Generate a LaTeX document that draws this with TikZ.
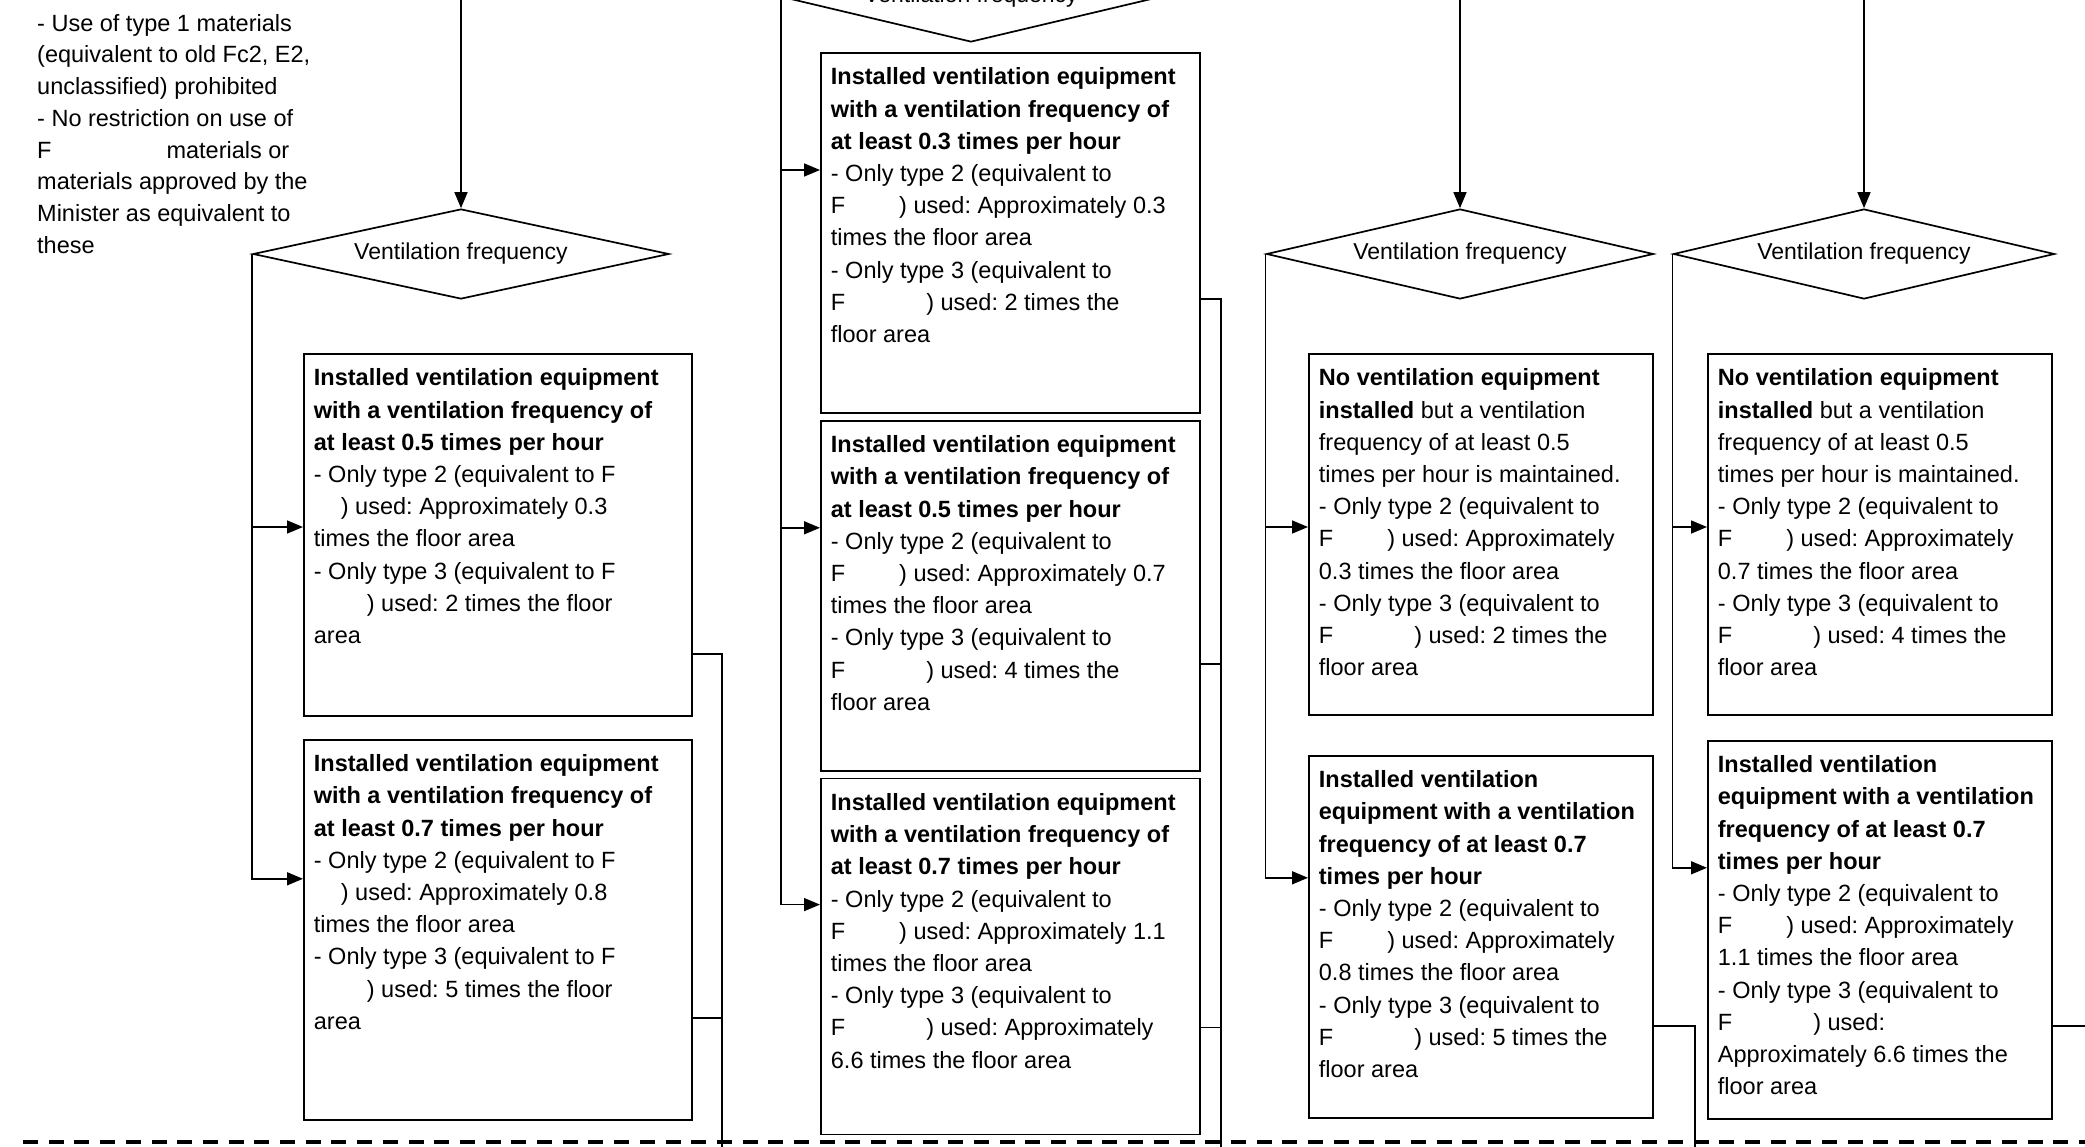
\documentclass[tikz,border=0pt]{standalone}
\usepackage{fontspec}
\setmainfont{Liberation Sans}
\usetikzlibrary{arrows.meta,positioning,shapes.geometric,calc}

\newcommand{\boxfont}{\fontsize{23.5}{32.2}\selectfont}
\newcommand{\cellbox}[3]{\parbox[t][#2][t]{#1}{\raggedright\frenchspacing #3}}

\begin{document}
\begin{tikzpicture}[x=1pt, y=-1pt,
    line/.style={line width=1.6pt},
    arr/.style={line width=1.6pt, -{Triangle[length=16pt,width=13pt]}},
    cell/.style={draw, line width=1.8pt, anchor=north west, inner xsep=10pt, inner ysep=15pt, font=\boxfont},
    decision/.style={draw, diamond, line width=1.7pt, inner sep=0pt, aspect=4.6, minimum height=90pt, font=\fontsize{23}{28}\selectfont},
    sepline/.style={line width=3.3pt, dash pattern=on 15pt off 10.7pt}]
  \useasboundingbox (0,0) rectangle (2085,1147);
  \clip (0,0) rectangle (2085,1147);

  \node[anchor=north west, inner sep=0pt, align=left, font=\fontsize{23.5}{31.7}\selectfont] (note) at (37,14)
    {- Use of type 1 materials\\(equivalent to old Fc2, E2,\\unclassified) prohibited\\- No restriction on use of\\F\hspace{115pt}materials or\\materials approved by the\\Minister as equivalent to\\these};

  % decisions
  \node[decision, minimum width=416pt] (d1) at (461,254) {Ventilation frequency};
  \node[decision, minimum width=378pt] (d2) at (971,-3) {Ventilation frequency};
  \node[decision, minimum width=387pt] (d3) at (1460,254) {Ventilation frequency};
  \node[decision, minimum width=381pt] (d4) at (1864,254) {Ventilation frequency};

  % column 1
  \node[cell] (b1) at (303,353) {\cellbox{368pt}{332pt}{%
    \textbf{Installed ventilation equipment}\\
    \textbf{with a ventilation frequency of}\\
    \textbf{at least 0.5 times per hour}\\
    - Only type 2 (equivalent to F\\
    \hspace*{27pt}) used: Approximately 0.3\\
    times the floor area\\
    - Only type 3 (equivalent to F\\
    \hspace*{53pt}) used: 2 times the floor\\
    area}};
  \node[cell, below=22pt of b1] (b2) {\cellbox{368pt}{350pt}{%
    \textbf{Installed ventilation equipment}\\
    \textbf{with a ventilation frequency of}\\
    \textbf{at least 0.7 times per hour}\\
    - Only type 2 (equivalent to F\\
    \hspace*{27pt}) used: Approximately 0.8\\
    times the floor area\\
    - Only type 3 (equivalent to F\\
    \hspace*{53pt}) used: 5 times the floor\\
    area}};

  % column 2
  \node[cell] (b3) at (820,52) {\cellbox{359pt}{330pt}{%
    \textbf{Installed ventilation equipment}\\
    \textbf{with a ventilation frequency of}\\
    \textbf{at least 0.3 times per hour}\\
    - Only type 2 (equivalent to\\
    F\hspace{54pt}) used: Approximately 0.3\\
    times the floor area\\
    - Only type 3 (equivalent to\\
    F\hspace{81pt}) used: 2 times the\\
    floor area}};
  \node[cell, below=6pt of b3] (b4) {\cellbox{359pt}{320pt}{%
    \textbf{Installed ventilation equipment}\\
    \textbf{with a ventilation frequency of}\\
    \textbf{at least 0.5 times per hour}\\
    - Only type 2 (equivalent to\\
    F\hspace{54pt}) used: Approximately 0.7\\
    times the floor area\\
    - Only type 3 (equivalent to\\
    F\hspace{81pt}) used: 4 times the\\
    floor area}};
  \node[cell, below=6pt of b4] (b5) {\cellbox{359pt}{326pt}{%
    \textbf{Installed ventilation equipment}\\
    \textbf{with a ventilation frequency of}\\
    \textbf{at least 0.7 times per hour}\\
    - Only type 2 (equivalent to\\
    F\hspace{54pt}) used: Approximately 1.1\\
    times the floor area\\
    - Only type 3 (equivalent to\\
    F\hspace{81pt}) used: Approximately\\
    6.6 times the floor area}};

  % column 3
  \node[cell] (b6) at (1308,353) {\cellbox{324pt}{331pt}{%
    \textbf{No ventilation equipment}\\
    \textbf{installed} but a ventilation\\
    frequency of at least 0.5\\
    times per hour is maintained.\\
    - Only type 2 (equivalent to\\
    F\hspace{54pt}) used: Approximately\\
    0.3 times the floor area\\
    - Only type 3 (equivalent to\\
    F\hspace{81pt}) used: 2 times the\\
    floor area}};
  \node[cell, below=39pt of b6] (b7) {\cellbox{324pt}{332pt}{%
    \textbf{Installed ventilation}\\
    \textbf{equipment with a ventilation}\\
    \textbf{frequency of at least 0.7}\\
    \textbf{times per hour}\\
    - Only type 2 (equivalent to\\
    F\hspace{54pt}) used: Approximately\\
    0.8 times the floor area\\
    - Only type 3 (equivalent to\\
    F\hspace{81pt}) used: 5 times the\\
    floor area}};

  % column 4
  \node[cell] (b8) at (1707,353) {\cellbox{324pt}{331pt}{%
    \textbf{No ventilation equipment}\\
    \textbf{installed} but a ventilation\\
    frequency of at least 0.5\\
    times per hour is maintained.\\
    - Only type 2 (equivalent to\\
    F\hspace{54pt}) used: Approximately\\
    0.7 times the floor area\\
    - Only type 3 (equivalent to\\
    F\hspace{81pt}) used: 4 times the\\
    floor area}};
  \node[cell, below=24pt of b8] (b9) {\cellbox{324pt}{348pt}{%
    \textbf{Installed ventilation}\\
    \textbf{equipment with a ventilation}\\
    \textbf{frequency of at least 0.7}\\
    \textbf{times per hour}\\
    - Only type 2 (equivalent to\\
    F\hspace{54pt}) used: Approximately\\
    1.1 times the floor area\\
    - Only type 3 (equivalent to\\
    F\hspace{81pt}) used:\\
    Approximately 6.6 times the\\
    floor area}};

  \coordinate (top) at (0,0);
  \coordinate (r1) at (722,1147);
  \coordinate (r2) at (1221,1147);
  \coordinate (r3) at (1695,1147);
  \coordinate (r4) at (2100,1147);
  \coordinate (dl) at (23,1142);
  \coordinate (dr) at (2085,1142);

  \draw[arr] (d1.north |- top) -- (d1.north);
  \draw[arr] (d3.north |- top) -- (d3.north);
  \draw[arr] (d4.north |- top) -- (d4.north);

  \draw[arr] (d1.west) |- ($(b1.north west)+(0,174)$);
  \draw[arr] (d1.west) |- ($(b2.north west)+(0,140)$);
  \draw[arr] (d2.west) |- ($(b3.north west)+(0,118)$);
  \draw[arr] (d2.west) |- ($(b4.north west)+(0,108)$);
  \draw[arr] (d2.west) |- ($(b5.north west)+(0,127)$);
  \draw[arr] (d3.west) |- ($(b6.north west)+(0,174)$);
  \draw[arr] (d3.west) |- ($(b7.north west)+(0,123)$);
  \draw[arr] (d4.west) |- ($(b8.north west)+(0,174)$);
  \draw[arr] (d4.west) |- ($(b9.north west)+(0,128)$);

  \draw[line] ($(b1.north east)+(0,301)$) -| (r1);
  \draw[line] ($(b2.north east)+(0,279)$) -| (r1);
  \draw[line] ($(b3.north east)+(0,247)$) -| (r2);
  \draw[line] ($(b4.north east)+(0,244)$) -| (r2);
  \draw[line] ($(b5.north east)+(0,250)$) -| (r2);
  \draw[line] ($(b7.north east)+(0,271)$) -| (r3);
  \draw[line] ($(b9.north east)+(0,286)$) coordinate (o9) -- (o9 -| r4);

  \draw[sepline] (dl) -- (dr);
\end{tikzpicture}
\end{document}
